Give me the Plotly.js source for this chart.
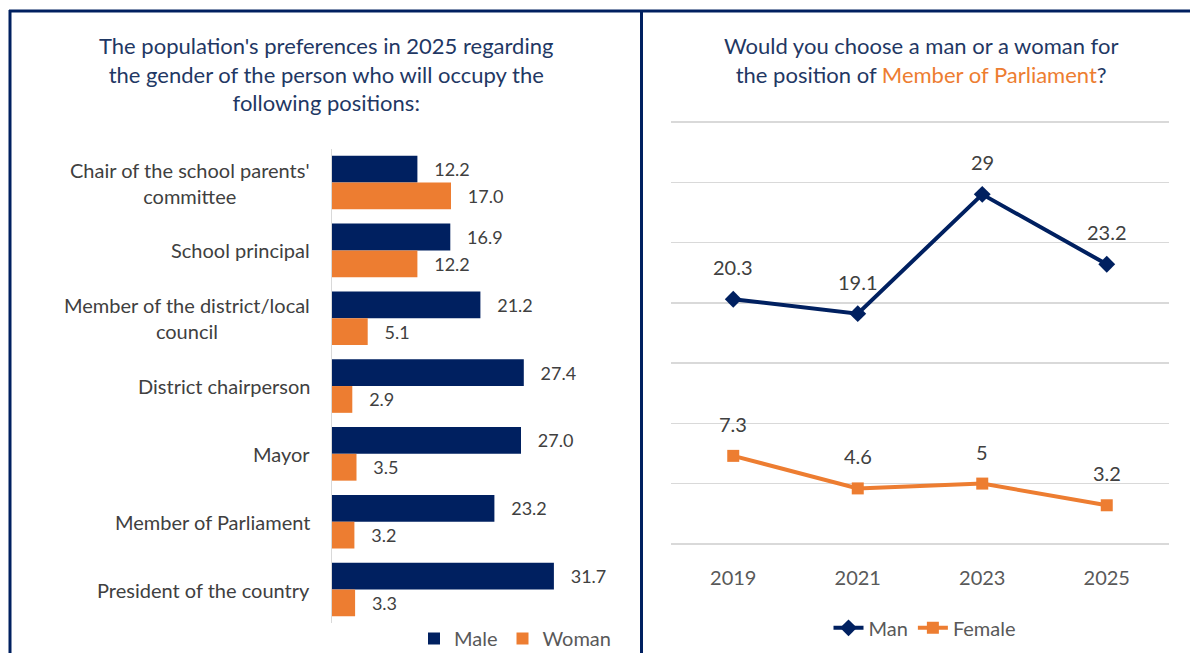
<!DOCTYPE html>
<html>
<head>
<meta charset="utf-8">
<script src="https://cdn.plot.ly/plotly-3.0.1.min.js"></script>
<style>html,body{margin:0;padding:0;background:#fff;} #chart{width:1190px;height:658px;}</style>
</head>
<body>
<div id="chart"></div>
<script>
// ---- Data ----
const positions = [
  "Chair of the school parents' committee",
  "School principal",
  "Member of the district/local council",
  "District chairperson",
  "Mayor",
  "Member of Parliament",
  "President of the country"
];
const positionLabels = [
  "Chair of the school parents'<br>committee",
  "School principal",
  "Member of the district/local<br>council",
  "District chairperson",
  "Mayor",
  "Member of Parliament",
  "President of the country"
];
const maleValues = [12.2, 16.9, 21.2, 27.4, 27.0, 23.2, 31.7];
const womanValues = [17.0, 12.2, 5.1, 2.9, 3.5, 3.2, 3.3];

const years = ["2019", "2021", "2023", "2025"];
const manValues = [20.3, 19.1, 29, 23.2];
const femaleValues = [7.3, 4.6, 5, 3.2];

// ---- Styles ----
const NAVY = "#002060";
const ORANGE = "#ED7D31";
const TITLE = "#1F3864";
const TXT = "#404040";
const FONT = "Lato, 'Open Sans', sans-serif";
const W = 1190, H = 658;
const px = v => v / W;
const py = v => 1 - v / H;
const Y_UNIT = (548 - 123) / 35;   // pixels per unit on the line chart

const traces = [
  {
    type: "bar", orientation: "h", name: "Male",
    y: positions, x: maleValues,
    marker: {color: NAVY},
    text: maleValues.map(v => "   " + v.toFixed(1)),
    textposition: "outside", cliponaxis: false, constraintext: "none",
    textfont: {family: FONT, size: 18, color: TXT},
    xaxis: "x", yaxis: "y", legend: "legend", hoverinfo: "skip"
  },
  {
    type: "bar", orientation: "h", name: "Woman",
    y: positions, x: womanValues,
    marker: {color: ORANGE},
    text: womanValues.map(v => "   " + v.toFixed(1)),
    textposition: "outside", cliponaxis: false, constraintext: "none",
    textfont: {family: FONT, size: 18, color: TXT},
    xaxis: "x", yaxis: "y", legend: "legend", hoverinfo: "skip"
  },
  {
    type: "scatter", mode: "lines+markers", name: "Man",
    x: years, y: manValues,
    line: {color: NAVY, width: 4},
    marker: {symbol: "diamond", size: 13, color: NAVY},
    xaxis: "x2", yaxis: "y2", legend: "legend2", cliponaxis: false, hoverinfo: "skip"
  },
  {
    type: "scatter", mode: "lines+markers", name: "Female",
    x: years, y: femaleValues,
    line: {color: ORANGE, width: 4},
    marker: {symbol: "square", size: 12, color: ORANGE},
    xaxis: "x2", yaxis: "y2", legend: "legend2", cliponaxis: false, hoverinfo: "skip"
  }
];

const annotations = [];
// left title
annotations.push({
  xref: "paper", yref: "paper", x: px(326), y: py(30), xanchor: "center", yanchor: "top",
  showarrow: false, align: "center",
  text: "The population's preferences in 2025 regarding<br>the gender of the person who will occupy the<br>following positions:",
  font: {family: FONT, size: 22, color: TITLE}
});
// right title
annotations.push({
  xref: "paper", yref: "paper", x: px(921), y: py(30), xanchor: "center", yanchor: "top",
  showarrow: false, align: "center",
  text: "Would you choose a man or a woman for<br>the position of <span style='color:" + ORANGE + "'>Member of Parliament</span>?",
  font: {family: FONT, size: 22, color: TITLE}
});
// category labels
positions.forEach((p, i) => {
  annotations.push({
    xref: "paper", yref: "y", x: px(312), y: i, xanchor: "right", yanchor: "middle",
    showarrow: false, align: "center", text: positionLabels[i],
    font: {family: FONT, size: 20, color: TXT}
  });
});
// line labels
[manValues, femaleValues].forEach(vals => {
  vals.forEach((v, i) => {
    annotations.push({
      xref: "x2", yref: "y2", x: i, y: v, yshift: 32, xanchor: "center", yanchor: "middle",
      showarrow: false, text: String(v),
      font: {family: FONT, size: 20, color: TXT}
    });
  });
});

const shapes = [
  {type: "line", xref: "paper", yref: "paper", x0: px(9), x1: 1, y0: py(11), y1: py(11), line: {color: NAVY, width: 3}},
  {type: "line", xref: "paper", yref: "paper", x0: px(10), x1: px(10), y0: py(10), y1: 0, line: {color: NAVY, width: 3}},
  {type: "line", xref: "paper", yref: "paper", x0: px(641.5), x1: px(641.5), y0: py(10), y1: 0, line: {color: NAVY, width: 3}}
];

const Y2MAX = 37;
const layout = {
  width: W, height: H,
  margin: {l: 0, r: 0, t: 0, b: 0},
  paper_bgcolor: "#fff", plot_bgcolor: "rgba(0,0,0,0)",
  font: {family: FONT, color: TXT},
  barmode: "group", bargap: 0.21, bargroupgap: 0,
  xaxis: {domain: [px(332), px(612)], range: [0, 40], showgrid: false, zeroline: false,
          showticklabels: false, showline: false, fixedrange: true},
  yaxis: {domain: [py(628.2), py(149.8)], autorange: "reversed", showticklabels: false,
          showgrid: false, zeroline: false, showline: true, linecolor: "#d9d9d9", linewidth: 1.5,
          ticks: "", type: "category"},
  xaxis2: {domain: [px(671), px(1169)], anchor: "y2", type: "category", range: [-0.5, 3.5],
           showgrid: false, zeroline: false, showline: false,
           ticks: "outside", ticklen: 16, tickcolor: "rgba(0,0,0,0)",
           tickfont: {family: FONT, size: 20, color: "#595959"}},
  yaxis2: {domain: [py(548), py(548 - Y2MAX * Y_UNIT)], anchor: "x2", range: [0, Y2MAX],
           tickmode: "linear", tick0: 0, dtick: 5,
           showticklabels: false, showgrid: true, gridcolor: "#d9d9d9", gridwidth: 1.5,
           zeroline: true, zerolinecolor: "#d9d9d9", zerolinewidth: 1.5, ticks: ""},
  legend: {orientation: "h", x: px(414), y: py(624), xanchor: "left", yanchor: "top",
           font: {family: FONT, size: 20, color: "#595959"}, bgcolor: "rgba(0,0,0,0)",
           itemwidth: 30, traceorder: "normal"},
  legend2: {orientation: "h", x: px(925), y: py(613), xanchor: "center", yanchor: "top",
            font: {family: FONT, size: 20, color: "#595959"}, bgcolor: "rgba(0,0,0,0)",
            itemwidth: 30, traceorder: "normal"},
  annotations: annotations,
  shapes: shapes,
  showlegend: true
};

Plotly.newPlot("chart", traces, layout, {displayModeBar: false, staticPlot: true});
</script>
</body>
</html>
